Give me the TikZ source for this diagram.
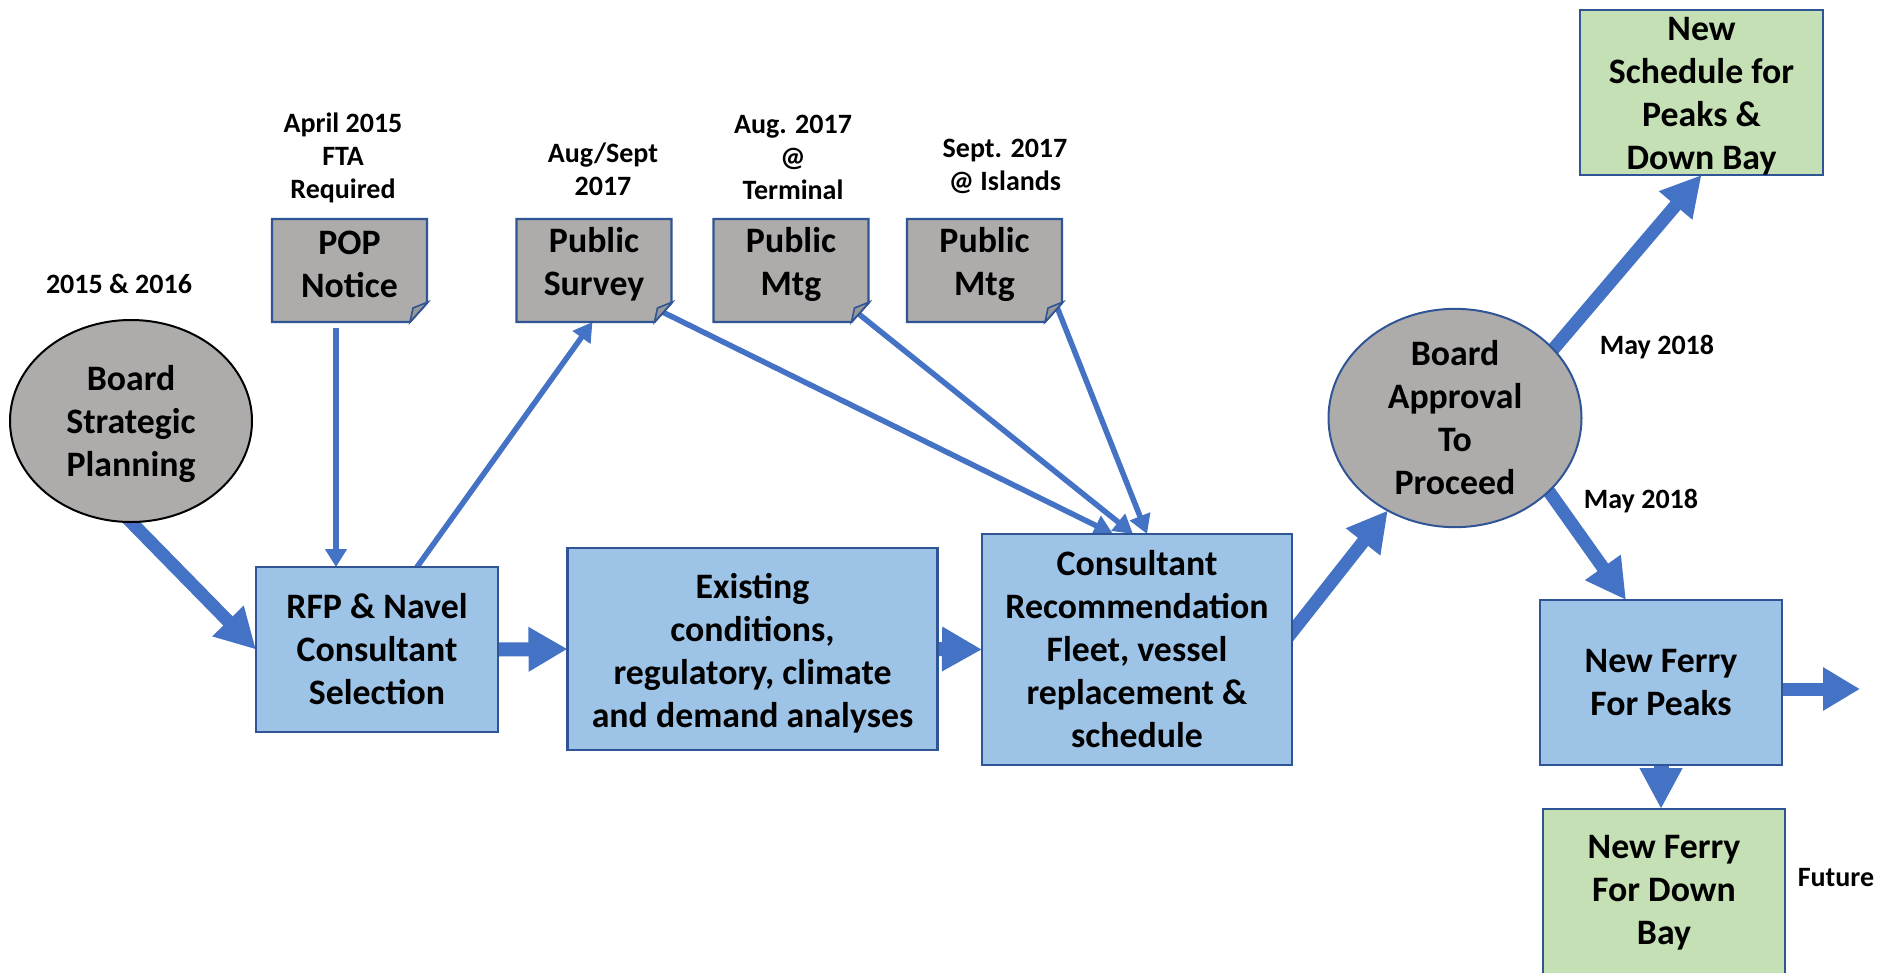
\documentclass[tikz,border=0pt]{standalone}
\usepackage{fontspec}
\setmainfont{Carlito}
\usetikzlibrary{arrows.meta,calc,shapes.geometric}
\definecolor{arrowblue}{HTML}{4472C4}
\definecolor{boxblue}{HTML}{9DC3E6}
\definecolor{edgeblue}{HTML}{2F5597}
\definecolor{notegray}{HTML}{AEABAB}
\definecolor{foldgray}{HTML}{9A9797}
\definecolor{boxgreen}{HTML}{C5E0B4}
\pgfdeclarelayer{bg}
\pgfdeclarelayer{mid}
\pgfsetlayers{bg,mid,main}
\newcommand\drawnote[1]{%
  \begin{pgfonlayer}{mid}
    \filldraw[notepath] (#1.north west) -- (#1.north east) -- ($(#1.south east)+(0,-19)$)
      -- ($(#1.south east)+(-17,0)$) -- (#1.south west) -- cycle;
    \filldraw[foldpath] ($(#1.south east)+(-17,0)$) -- ($(#1.south east)+(-14,-14)$)
      -- ($(#1.south east)+(1,-20)$) -- cycle;
  \end{pgfonlayer}}
\begin{document}
\begin{tikzpicture}[x=1pt,y=-1pt,
  every node/.style={inner sep=0pt, outer sep=0pt, align=center},
  boxtext/.style={font=\fontsize{35.8}{43}\selectfont\bfseries},
  labeltext/.style={font=\fontsize{28}{33}\selectfont\bfseries},
  process/.style={boxtext, rectangle, draw=edgeblue, line width=2.2pt, fill=boxblue},
  outcome/.style={boxtext, rectangle, draw=edgeblue, line width=2.2pt, fill=boxgreen},
  decision/.style={boxtext, ellipse, fill=notegray, line width=2pt},
  notenode/.style={rectangle, minimum width=155pt, minimum height=103pt},
  notetext/.style={boxtext, yshift=6.5pt},
  notepath/.style={fill=notegray, draw=edgeblue, line width=2.2pt, line join=miter},
  foldpath/.style={fill=foldgray, draw=edgeblue, line width=1.6pt, line join=miter},
  bigarrow/.style={draw=arrowblue, line width=13pt, -{Triangle[length=40pt,width=41pt]}},
  thinarrow/.style={draw=arrowblue, line width=5.5pt, -{Triangle[length=19pt,width=21pt]}},
]
\useasboundingbox (0,0) rectangle (1895,972);

% main nodes
\node[decision, draw=black, minimum width=242pt, minimum height=202pt,
  label={[boxtext, yshift=-3pt]center:Board\\Strategic\\Planning}] (bsp) at (131,421) {};
\node[process, minimum width=242pt, minimum height=165pt] (rfp) at (377,649.5) {RFP \& Navel\\Consultant\\Selection};
\node[process, minimum width=370pt, minimum height=202pt,
  label={[boxtext, yshift=-4pt]center:Existing\\conditions,\\regulatory, climate\\and demand analyses}] (ex) at (752.5,649) {};
\node[process, minimum width=310pt, minimum height=231pt] (cr) at (1137,649.5) {Consultant\\Recommendation\\Fleet, vessel\\replacement \&\\schedule};
\node[decision, draw=edgeblue, minimum width=253pt, minimum height=201pt] (ba) at (1455,418) {Board\\Approval\\To\\Proceed};
\node[outcome, minimum width=243pt, minimum height=165pt,
  label={[boxtext, yshift=-3.5pt]center:New\\Schedule for\\Peaks \&\\Down Bay}] (ns) at (1701.5,92.5) {};
\node[process, minimum width=242pt, minimum height=165pt] (nfp) at (1661,682.5) {New Ferry\\For Peaks};
\node[outcome, minimum width=242pt, minimum height=168pt] (ndb) at (1664,893) {New Ferry\\For Down\\Bay};

% note nodes
\node[notenode, label={[notetext]center:POP\\Notice}] (pop) at (349.5,270.5) {};
\node[notenode, label={[notetext]center:Public\\Survey}] (survey) at (594,270.5) {};
\node[notenode, label={[notetext]center:Public\\Mtg}] (term) at (791,270.5) {};
\node[notenode, label={[notetext]center:Public\\Mtg}] (isl) at (984.5,270.5) {};
\drawnote{pop}
\drawnote{survey}
\drawnote{term}
\drawnote{isl}

% labels
\node[labeltext] (l1) at (119,284) {2015 \& 2016};
\node[labeltext] (l2) at (343,157.5) {April 2015\\FTA\\Required};
\node[labeltext] (l3) at (603,169) {Aug/Sept\\2017};
\node[labeltext] (l4) at (793,157.5) {Aug. 2017\\@\\Terminal};
\node[labeltext] (l5) at (1005,166.5) {Sept. 2017\\@ Islands};
\node[labeltext] (l6) at (1657,347) {May 2018};
\node[labeltext] (l7) at (1641,501) {May 2018};
\node[labeltext] (l8) at (1836,878) {Future};

\coordinate (out) at (1860,689);

% connectors
\begin{pgfonlayer}{bg}
\draw[bigarrow, shorten <=-8pt] (bsp.south) -- (rfp.west);
\draw[thinarrow, line width=6pt, -{Triangle[length=18pt,width=21pt]}] ($(pop.south west)+(64,6)$) -- ($(rfp.north west)+(80,0)$);
\draw[thinarrow, shorten <=-6pt] ($(rfp.north west)+(161,0)$) -- ($(survey.south west)+(76,0)$);
\draw[thinarrow, shorten <=-4pt] ($(survey.south east)+(-9,-10)$) -- ($(cr.north west)+(131,0)$);
\draw[thinarrow] ($(term.south east)+(-11,-9)$) -- ($(cr.north west)+(151,0)$);
\draw[thinarrow] ($(isl.south east)+(-5,-15)$) -- ($(cr.north west)+(165,0)$);
\draw[bigarrow, line width=14pt, -{Triangle[length=39pt,width=42pt]}] (rfp.east) -- (ex.west);
\draw[bigarrow, line width=14pt, -{Triangle[length=40pt,width=42pt]}] (ex.east) -- (cr.west);
\draw[bigarrow, shorten <=-10pt] ($(cr.east)+(0,-17.5)$) -- (ba.234);
\draw[bigarrow, shorten <=-10pt] (ba.35) -- (ns.south);
\draw[bigarrow, shorten <=-10pt] (ba.-38) -- ($(nfp.north west)+(86,0)$);
\draw[bigarrow, -{Triangle[length=37pt,width=41pt]}] ($(nfp.east)+(0,6.5)$) -- (out);
\draw[bigarrow, line width=15pt, -{Triangle[length=41pt,width=40pt]}] (nfp.south) -- (nfp.south |- ndb.north);
\end{pgfonlayer}
\end{tikzpicture}
\end{document}
